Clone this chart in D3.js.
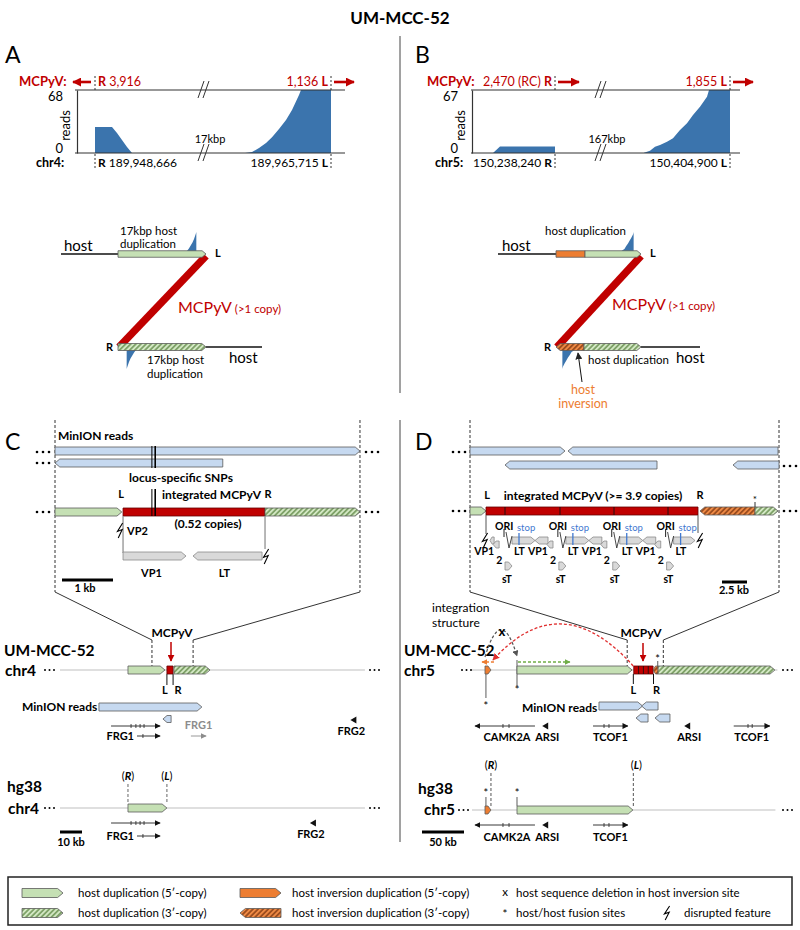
<!DOCTYPE html>
<html><head><meta charset="utf-8">
<script src="https://cdn.jsdelivr.net/npm/d3@7"></script>
<style>body{margin:0;background:#fff}svg{display:block}text{font-family:Lato,'Open Sans','DejaVu Sans',sans-serif;white-space:pre}</style>
</head><body><svg id="c" width="800" height="930"></svg>
<script>
// ================= DATA =================
const figTitle = "UM-MCC-52";
const panelLetters = ["A","B","C","D"];
// Panels A/B: read coverage across junctions [bp offset from junction, reads]
const covA_R = [[0,28],[340,28],[440,21.6],[540,14],[640,6.5],[740,0]];
const covA_L = [[-1720,0],[-1580,1],[-1440,5.4],[-1300,10.8],[-1180,17],[-1040,25.9],[-900,35.6],[-780,46.4],[-640,62.6],[-600,68],[0,68]];
const covB_R = [[-1240,0],[-1100,7],[0,7]];
const covB_L = [[-1720,0.3],[-1600,2.5],[-1500,6.7],[-1400,8.5],[-1260,12],[-1140,15.6],[-1000,24.5],[-860,31.6],[-740,40.4],[-600,49.3],[-460,59.9],[-420,67],[0,67]];
const readMaxA = 68, readMaxB = 67;
const virusPosA = ["3,916","1,136"], hostPosA = ["189,948,666","189,965,715"];
const virusPosB = ["2,470 (RC)","1,855"], hostPosB = ["150,238,240","150,404,900"];
const chrLabels = ["chr4:","chr5:"];
const gapLabels = ["17kbp","167kbp"];
// Panel C top (kb)
const cFrame = [0, 5.98];
const cReads = [{s:0,e:5.98,dir:"r",row:0},{s:0,e:3.29,dir:"l",row:1}];
const cSNPs = [1.90, 1.965];
const cBar = [{s:0,e:1.31,type:"dup5",dir:"r"},{s:1.334,e:4.118,type:"virus",dir:"n"},{s:4.118,e:5.98,type:"dup3",dir:"r"}];
const cJunction = {L:1.334, R:4.118};
const cGenes = [{name:"VP1",s:1.334,e:2.569,dir:"r"},{name:"LT",s:2.706,e:4.06,dir:"l"}];
// Panel C chr4 tracks (kb)
const c4Line = [0, 138.6];
const c4Zoom = [41.8, 60.5];
const c4Blocks = [{s:30.9,e:47.7,type:"dup5",dir:"r"},{s:48.6,e:51.4,type:"virus",dir:"n"},{s:51.8,e:68.2,type:"dup3",dir:"r"}];
const c4Reads = [{s:17.7,e:64.5,dir:"r",row:0},{s:46.8,e:50.5,dir:"l",row:1}];
const c4Genes = [{name:"FRG1",s:23.2,e:45.5,dir:"r",row:0,ticks:[32.3,34.5,36.4,38.2]},{name:"FRG1",s:35,e:45.5,dir:"r",row:1,ticks:[37.7]},{name:"FRG1",s:59.5,e:66.4,dir:"r",row:1,gray:true,ticks:[]},{name:"FRG2",s:132,e:134.8,dir:"l",row:0,marker:true,ticks:[]}];
const hg4Blocks = [{s:30.9,e:48.6,type:"dup5",dir:"r"}];
const hg4Genes = [{name:"FRG1",s:23.2,e:45.5,dir:"r",row:0,ticks:[32.3,34.5,36.4,38.2]},{name:"FRG1",s:35,e:45.5,dir:"r",row:1,ticks:[37.7]},{name:"FRG2",s:113.6,e:116.4,dir:"l",row:0,marker:true,ticks:[]}];
// Panel D top (kb)
const dFrame = [0, 30.9];
const dReads = [{s:0,e:9.5,dir:"r",row:0},{s:9.8,e:30.8,dir:"l",row:0},{s:3.5,e:18.7,dir:"l",row:1},{s:26.3,e:30.9,dir:"l",row:1}];
const dBar = [{s:0,e:1.6,type:"dup5",dir:"r"},{s:1.6,e:22.8,type:"virus",dir:"n"},{s:23.0,e:28.5,type:"inv3",dir:"l"},{s:28.5,e:30.8,type:"dup3",dir:"r"}];
const dJunction = {L:1.6, R:22.8};
const dCopyBounds = [3.5, 9.0, 14.4, 19.8];
const dFusion = [28.5];
const mcpyvGenomeKb = 5.387, dFirstOri = 2.5;
const dCopies = [-1,0,1,2,3];
const mcpyvGenes = [{name:"LT",s:1.7,e:4.0,dir:"r",row:0},{name:"VP1",s:4.0,e:5.3,dir:"l",row:0},{name:"VP2",s:5.2,e:5.8,dir:"l",row:1},{name:"sT",s:1.0,e:1.7,dir:"r",row:2}];
const mcpyvStop = 2.4;
// Panel D chr5 tracks (kb)
const c5Line = [-3.6, 360];
const c5Zoom = [180, 223];
const c5Blocks = [{s:11.9,e:19,type:"inv5",dir:"r"},{s:50,e:187,type:"dup5",dir:"r"},{s:189,e:212,type:"virus",dir:"n",copies:4},{s:212,e:218,type:"inv3",dir:"l"},{s:218,e:357,type:"dup3",dir:"r"}];
const c5Junction = {L:188.5, R:212.5};
const c5Fusions = [{pos:13,y0:674,y1:698,ty:710},{pos:50,y0:660,y1:686,ty:694},{pos:217.5,y0:661,y1:667,ty:663}];
const c5Reads = [{s:147.6,e:199.5,dir:"r",row:0},{s:198.3,e:217.9,dir:"l",row:0},{s:191.7,e:206,dir:"l",row:1},{s:214.3,e:232.1,dir:"l",row:1}];
const c5Genes = [{name:"CAMK2A",s:0,e:71.4,dir:"l",ticks:[33.3,40.5]},{name:"ARSI",s:80,e:87,dir:"l",marker:true,ticks:[]},{name:"TCOF1",s:140.5,e:182,dir:"r",ticks:[153.6,159.5]},{name:"ARSI",s:249,e:256,dir:"l",marker:true,ticks:[]},{name:"TCOF1",s:308,e:351,dir:"r",ticks:[325,330]}];
const hg5Blocks = [{s:11.9,e:19,type:"inv5",dir:"r"},{s:50,e:188,type:"dup5",dir:"r"}];
const hg5Fusions = [13, 50];
const hg5Marks = [{lab:"R",pos:19},{lab:"L",pos:188.5}];
const hg5Genes = c5Genes.slice(0,3);
const legendItems = [
  {type:"dup5",dir:"r",label:"host duplication (5′-copy)",col:0,row:0},
  {type:"dup3",dir:"r",label:"host duplication (3′-copy)",col:0,row:1},
  {type:"inv5",dir:"r",label:"host inversion duplication (5′-copy)",col:1,row:0},
  {type:"inv3",dir:"l",label:"host inversion duplication (3′-copy)",col:1,row:1},
  {sym:"x",label:"host sequence deletion in host inversion site",col:2,row:0},
  {sym:"*",label:"host/host fusion sites",col:2,row:1},
  {sym:"bolt",label:"disrupted feature",col:3,row:1}];

// ================= STYLE / HELPERS =================
const C = {green:"#c5e0b4", red:"#c00000", orange:"#ed7d31", blue:"#3b74ad", read:"#c6d9f0", gene:"#d9d9d9", edge:"#5a5a5a", chr:"#d4d4d4", stop:"#3f78d0"};
const bpPerPx = 20;
const svg = d3.select("#c");
const defs = svg.append("defs");
function hatch(id,bg,fg){const p=defs.append("pattern").attr("id",id).attr("patternUnits","userSpaceOnUse").attr("width",3.6).attr("height",3.6).attr("patternTransform","rotate(45)");
 p.append("rect").attr("width",3.6).attr("height",3.6).attr("fill",bg);
 p.append("line").attr("x1",0.9).attr("x2",0.9).attr("y1",0).attr("y2",3.6).attr("stroke",fg).attr("stroke-width",1.3);}
hatch("hG","#d3e8c4","#5e8745"); hatch("hO","#ef8a45","#7b3510");
function marker(id,color,size){defs.append("marker").attr("id",id).attr("viewBox","0 0 10 10").attr("refX",9).attr("refY",5)
 .attr("markerWidth",size).attr("markerHeight",size).attr("orient","auto").attr("markerUnits","userSpaceOnUse")
 .append("path").attr("d","M0,0 L10,5 L0,10 z").attr("fill",color);}
marker("mRed",C.red,9); marker("mRedS",C.red,7); marker("mBlk","#222",7); marker("mGene","#111",6); marker("mGeneG","#8c8c8c",6);
marker("mGreen","#70ad47",6); marker("mOrange",C.orange,6); marker("mGray","#555",6); marker("mRedA","#e03030",7);
const fillOf = t => ({dup5:C.green, dup3:"url(#hG)", virus:C.red, inv5:C.orange, inv3:"url(#hO)"})[t];
function abox(g,x0,x1,yc,h,dir,fill,stroke=C.edge,sw=0.8){
 const t=Math.min(h*0.6,Math.abs(x1-x0)/2),a=yc-h/2,b=yc+h/2; let p;
 if(dir==="r")p=[[x0,a],[x1-t,a],[x1,yc],[x1-t,b],[x0,b]];
 else if(dir==="l")p=[[x0,yc],[x0+t,a],[x1,a],[x1,b],[x0+t,b]];
 else if(dir==="b")p=[[x0,yc],[x0+t,a],[x1-t,a],[x1,yc],[x1-t,b],[x0+t,b]];
 else p=[[x0,a],[x1,a],[x1,b],[x0,b]];
 return g.append("polygon").attr("points",p.map(q=>q.join(",")).join(" ")).attr("fill",fill).attr("stroke",stroke).attr("stroke-width",sw);}
function txt(g,x,y,s,o={}){const t=g.append("text").attr("x",x).attr("y",y).text(s).attr("font-size",o.size||12)
 .attr("text-anchor",o.anchor||"start").attr("fill",o.fill||"#000");
 if(o.bold)t.attr("font-weight","bold"); if(o.style)t.attr("font-style",o.style); if(o.family)t.attr("font-family",o.family); return t;}
function mtext(g,x,y,parts,o={}){const t=g.append("text").attr("x",x).attr("y",y).attr("font-size",o.size||12).attr("text-anchor",o.anchor||"start").attr("fill",o.fill||"#000");
 parts.forEach(p=>{const s=t.append("tspan").text(p[0]); if(p[1])s.attr("font-weight","bold"); if(p[2])s.attr("font-style",p[2]);}); return t;}
function line(g,x1,y1,x2,y2,o={}){const l=g.append("line").attr("x1",x1).attr("y1",y1).attr("x2",x2).attr("y2",y2)
 .attr("stroke",o.c||"#000").attr("stroke-width",o.w||1); if(o.dash)l.attr("stroke-dasharray",o.dash); if(o.m)l.attr("marker-end",`url(#${o.m})`); return l;}
function bolt(g,x,y,h=14){g.append("path").attr("d",`M${x+2.6},${y} L${x-2.6},${y+h*0.56} L${x+2.2},${y+h*0.44} L${x-1.8},${y+h}`)
 .attr("fill","none").attr("stroke","#000").attr("stroke-width",1.1);}
function dots(g,x,y,r=1.3,gap=6){d3.range(3).forEach(i=>g.append("circle").attr("cx",x+i*gap).attr("cy",y).attr("r",r).attr("fill","#000"));}
function geneArrow(g,x0,x1,y,dir,ticks,gray){const col=gray?"#8c8c8c":"#222";
 line(g,dir==="r"?x0:x1,y,dir==="r"?x1:x0,y,{c:col,w:0.9,m:gray?"mGeneG":"mGene"});
 ticks.forEach(t=>line(g,t,y-2,t,y+2,{c:col,w:0.8}));}
function geneMarker(g,x,y,dir){const p=dir==="l"?`M${x},${y} L${x+6},${y-3.5} L${x+6},${y+3.5} z`:`M${x+6},${y} L${x},${y-3.5} L${x},${y+3.5} z`;
 g.append("path").attr("d",p).attr("fill","#111");}

// ================= TITLE / FRAME =================
txt(svg,400,24,figTitle,{size:17,bold:true,anchor:"middle"});
[[5,63],[415,63],[5,450],[415,450]].forEach((p,i)=>txt(svg,p[0],p[1],panelLetters[i],{size:23,family:"'Liberation Sans',Arial,sans-serif"}));
line(svg,400,36,400,393,{c:"#444",w:1}); line(svg,400,420,400,842,{c:"#444",w:1});

// ================= PANELS A / B: coverage =================
function coveragePanel(cfg){
 const g=svg.append("g"), L=cfg.lay;
 const sy=d3.scaleLinear().domain([0,cfg.max]).range([L.botY,L.topY]);
 const sR=d3.scaleLinear().domain([0,bpPerPx]).range([L.Rj,L.Rj+1]);
 const sL=d3.scaleLinear().domain([0,bpPerPx]).range([L.Lj,L.Lj+1]);
 const area=sx=>d3.area().x(d=>sx(d[0])).y0(L.botY).y1(d=>sy(Math.min(d[1],cfg.max)));
 g.append("path").datum(cfg.covR).attr("d",area(sR)).attr("fill",C.blue);
 g.append("path").datum(cfg.covL).attr("d",area(sL)).attr("fill",C.blue);
 line(g,L.x0,L.topY,L.x1,L.topY,{c:"#333",w:1.2}); line(g,L.x0,L.botY,L.x1,L.botY,{c:"#333",w:1.2});
 const ax=g.append("g").attr("transform",`translate(${L.axisX},0)`).call(d3.axisLeft(sy).tickValues([0,cfg.max]).tickSize(0).tickPadding(14));
 ax.select(".domain").attr("stroke","#333").attr("stroke-width",1.2);
 ax.selectAll("text").attr("font-size",13).attr("fill","#000").attr("font-family","Lato,sans-serif").attr("dy",d=>d===0?"-0.05em":"0.78em");
 txt(g,0,0,"reads",{size:13,anchor:"middle"}).attr("transform",`translate(${L.axisX-7},${(L.topY+L.botY)/2+4}) rotate(-90)`);
 // breaks
 [L.topY,L.botY].forEach(y=>{[0,5].forEach(dx=>line(g,L.brk-5+dx,y+8,L.brk+1+dx,y-9,{c:"#333",w:1}));});
 txt(g,L.brk+7,L.botY-10,cfg.gap,{size:11,anchor:"middle"});
 // junction dashes
 [L.Rj,L.Lj].forEach(x=>{line(g,x,L.topY-14,x,L.topY,{c:"#333",dash:"2,2"}); line(g,x,L.botY+1,x,L.botY+17,{c:"#333",dash:"2,2"});});
 const vy=L.topY-4, hy=L.botY+14;
 txt(g,L.mcX,vy,"MCPyV:",{size:13,bold:true,fill:C.red});
 txt(g,L.chrX,hy,cfg.chr,{size:12.5,bold:true});
 if(cfg.rFirst){
  mtext(g,L.Rj+3,vy,[["R",1],[" "+cfg.virus[0]]],{size:12.5,fill:C.red});
  line(g,L.Rj-4,L.topY-8,L.Rj-22,L.topY-8,{c:C.red,w:2.6,m:"mRed"});
  mtext(g,L.Rj+3,hy,[["R",1],[" "+cfg.host[0]]],{size:12});
 } else {
  mtext(g,L.Rj-3,vy,[[cfg.virus[0]+" "],["R",1]],{size:12.5,fill:C.red,anchor:"end"});
  line(g,L.Rj+3,L.topY-8,L.Rj+24,L.topY-8,{c:C.red,w:2.6,m:"mRed"});
  mtext(g,L.Rj-3,hy,[[cfg.host[0]+" "],["R",1]],{size:12,anchor:"end"});
 }
 mtext(g,L.Lj-3,vy,[[cfg.virus[1]+" "],["L",1]],{size:12.5,fill:C.red,anchor:"end"});
 line(g,L.Lj+3,L.topY-8,L.Lj+23,L.topY-8,{c:C.red,w:2.6,m:"mRed"});
 mtext(g,L.Lj-3,hy,[[cfg.host[1]+" "],["L",1]],{size:12,anchor:"end"});
}
coveragePanel({covR:covA_R,covL:covA_L,max:readMaxA,virus:virusPosA,host:hostPosA,chr:chrLabels[0],gap:gapLabels[0],rFirst:true,
 lay:{axisX:77,x0:75,x1:345,brk:203,Rj:95,Lj:331,topY:90,botY:153,mcX:19,chrX:36}});
coveragePanel({covR:covB_R,covL:covB_L,max:readMaxB,virus:virusPosB,host:hostPosB,chr:chrLabels[1],gap:gapLabels[1],rFirst:false,
 lay:{axisX:472,x0:471,x1:740,brk:600,Rj:555,Lj:730,topY:90,botY:153,mcX:427,chrX:435}});

// ================= PANELS A / B: integration diagrams =================
function junctionDiagram(cfg){
 const g=svg.append("g"), D=cfg.lay;
 const dom=d3.extent(cfg.cov,d=>d[0]);
 const sxT=d3.scaleLinear().domain(dom).range([D.barX1-24,D.barX1-2]);
 const syT=d3.scaleLinear().domain([0,cfg.max]).range([D.topY,D.topY-22]);
 const sxB=d3.scaleLinear().domain(dom).range([D.barX0+23,D.barX0+1]);
 const syB=d3.scaleLinear().domain([0,cfg.max]).range([D.botY,D.botY+22]);
 const prof=cfg.cov.slice(0,-1);
 g.append("path").datum(prof).attr("d",d3.area().x(d=>sxT(d[0])).y0(D.topY).y1(d=>syT(d[1]))).attr("fill",C.blue);
 g.append("path").datum(prof).attr("d",d3.area().x(d=>sxB(d[0])).y0(D.botY).y1(d=>syB(d[1]))).attr("fill",C.blue);
 line(g,D.hostX0,D.topY,D.barX0,D.topY,{c:"#111",w:1.6});
 line(g,D.barX1,D.botY,D.hostX1,D.botY,{c:"#111",w:1.6});
 line(g,D.barX1,D.topY+2,D.barX0+1,D.botY,{c:C.red,w:7.5});
 if(D.inv){abox(g,D.barX0,D.inv,D.topY,6.5,"n",C.orange); abox(g,D.inv,D.barX1,D.topY,6.5,"r",C.green);
  abox(g,D.barX0,D.inv-1,D.botY,7,"l","url(#hO)"); abox(g,D.inv-1,D.barX1,D.botY,7,"r","url(#hG)");}
 else {abox(g,D.barX0,D.barX1,D.topY,6.5,"r",C.green); abox(g,D.barX0,D.barX1,D.botY,7,"r","url(#hG)");}
 txt(g,D.barX1+9,D.topY+3,"L",{size:11,bold:true});
 txt(g,D.barX0-12,D.botY+4,"R",{size:11,bold:true});
 txt(g,D.hostTX,D.topY-3,"host",{size:15}); txt(g,D.hostBX,D.botY+16,"host",{size:15});
 cfg.topText.forEach((s,i)=>txt(g,D.tTX,D.tTY+i*13,s,{size:11.5}));
 cfg.botText.forEach((s,i)=>txt(g,D.bTX,D.botY+17+i*13.5,s,{size:11.5}));
 mtext(g,D.mcX,D.mcY,[["MCPyV"]],{size:16,fill:C.red}).append("tspan").text(" (>1 copy)").attr("font-size",11.5);
 if(cfg.invLabel){line(g,D.inv-3,D.botY+35,D.inv-7,D.botY+6,{c:"#111",w:1,m:"mBlk"});
  cfg.invLabel.forEach((s,i)=>txt(g,D.inv-2,D.botY+47+i*14,s,{size:12.5,fill:C.orange,anchor:"middle"}));}
}
junctionDiagram({cov:covA_L,max:readMaxA,topText:["17kbp host","duplication"],botText:["17kbp host","duplication"],
 lay:{topY:254,botY:347,hostX0:61,barX0:118,barX1:206,hostX1:262,inv:null,hostTX:64,hostBX:229,tTX:120,tTY:235,bTX:147,mcX:178,mcY:313}});
junctionDiagram({cov:covB_L,max:readMaxB,topText:["host duplication"],botText:["host duplication"],invLabel:["host","inversion"],
 lay:{topY:254,botY:347,hostX0:498,barX0:556,barX1:641,hostX1:700,inv:585,hostTX:502,hostBX:676,tTX:545,tTY:235,bTX:588,mcX:612,mcY:310}});

// ================= PANEL C =================
(function(){
 const g=svg.append("g");
 const s=d3.scaleLinear().domain([0,1]).range([55,106]);
 const rowY=[451,463], barY=512, geneY=556;
 cFrame.forEach(k=>line(g,s(k),420,s(k),592,{c:"#333",dash:"3,2"}));
 const s4=d3.scaleLinear().domain([0,1]).range([60,62.2]);
 line(g,s(cFrame[0]),592,s4(c4Zoom[0]),640,{c:"#333"}); line(g,s(cFrame[1]),592,s4(c4Zoom[1]),640,{c:"#333"});
 c4Zoom.forEach(k=>line(g,s4(k),640,s4(k),666,{c:"#333",dash:"3,2"}));
 txt(g,58,440,"MinION reads",{size:12,bold:true});
 cReads.forEach(r=>abox(g,s(r.s),s(r.e),rowY[r.row],8,r.dir,C.read));
 dots(g,37,452); dots(g,366,452); dots(g,37,463); dots(g,37,512); dots(g,366,512);
 cBar.forEach(b=>abox(g,s(b.s),s(b.e),barY,8,b.dir,fillOf(b.type),b.type==="virus"?"#600":C.edge));
 cSNPs.forEach((k,i)=>{line(g,s(k),446,s(k),468,{c:"#000",w:i?1.6:1}); line(g,s(k),489,s(k),516,{c:"#000",w:i?1.6:1});});
 txt(g,181,482,"locus-specific SNPs",{size:12,bold:true,anchor:"middle"});
 txt(g,s(cJunction.L)-2,498,"L",{size:11,bold:true,anchor:"middle"});
 txt(g,s(cJunction.R)+3,498,"R",{size:11,bold:true,anchor:"middle"});
 txt(g,162,499,"integrated MCPyV",{size:12,bold:true});
 txt(g,208,528,"(0.52 copies)",{size:12,bold:true,anchor:"middle"});
 line(g,s(cJunction.L),516,s(cJunction.L),553,{c:"#888",w:1.2});
 line(g,s(cJunction.R),516,s(cJunction.R),549,{c:"#888",w:1.2});
 bolt(g,s(cJunction.L)-3,523,15); bolt(g,s(cJunction.R)+1,549,15);
 txt(g,127,535,"VP2",{size:11,bold:true});
 cGenes.forEach(ge=>{abox(g,s(ge.s),s(ge.e),geneY,8,ge.dir,C.gene,"#8a8a8a");
  txt(g,(s(ge.s)+s(ge.e))/2-3,577,ge.name,{size:11,bold:true,anchor:"middle"});});
 line(g,62,580,62+s(1)-s(0),580,{w:3}); txt(g,85,592,"1 kb",{size:11,bold:true,anchor:"middle"});

 const t1=670;
 txt(g,4,656,"UM-MCC-52",{size:15.5,bold:true}); txt(g,5,676,"chr4",{size:15.5,bold:true});
 dots(g,45,t1,1,4.5); dots(g,370,t1,1,4.5);
 line(g,s4(c4Line[0]),t1,s4(c4Line[1]),t1,{c:C.chr,w:1.5});
 c4Blocks.forEach(b=>abox(g,s4(b.s),s4(b.e),t1,8,b.dir,fillOf(b.type),b.type==="virus"?"#600":C.edge));
 txt(g,172,637,"MCPyV",{size:12,bold:true,anchor:"middle"});
 line(g,171,642,171,661,{c:C.red,w:1.5,m:"mRedS"});
 [[s4(c4Blocks[1].s),"L",-2],[s4(c4Blocks[1].e),"R",5]].forEach(([x,l,dx])=>{line(g,x,674,x,685,{c:"#111"}); txt(g,x+dx,694,l,{size:11,bold:true,anchor:"middle"});});
 txt(g,22,711,"MinION reads",{size:12,bold:true});
 c4Reads.forEach(r=>abox(g,s4(r.s),s4(r.e),r.row?719:707,r.row?7:8,r.dir,C.read));
 const gy=[726,736];
 c4Genes.forEach(ge=>{ if(ge.marker){geneMarker(g,s4(ge.s),720,ge.dir); txt(g,s4(ge.s)+1,735,ge.name,{size:11,bold:true,anchor:"middle"}); return;}
  geneArrow(g,s4(ge.s),s4(ge.e),gy[ge.row],ge.dir,ge.ticks.map(s4),ge.gray);
  if(ge.gray) txt(g,(s4(ge.s)+s4(ge.e))/2,729,ge.name,{size:11,bold:true,fill:"#8c8c8c",anchor:"middle"});
  else if(ge.row===1) txt(g,s4(ge.s)-3,740,ge.name,{size:11,bold:true,anchor:"end"}); });

 const t2=808;
 txt(g,7,792,"hg38",{size:15.5,bold:true}); txt(g,8,814,"chr4",{size:15.5,bold:true});
 dots(g,45,t2,1,4.5); dots(g,370,t2,1,4.5);
 line(g,s4(c4Line[0]),t2,s4(c4Line[1]),t2,{c:C.chr,w:1.5});
 hg4Blocks.forEach(b=>abox(g,s4(b.s),s4(b.e),t2,8,b.dir,fillOf(b.type)));
 [[s4(hg4Blocks[0].s),"R"],[s4(hg4Blocks[0].e),"L"]].forEach(([x,l])=>{line(g,x,784,x,804,{c:"#666",dash:"3,2"});
  mtext(g,x,780,[["("],[l,1,"italic"],[")"]],{size:11,anchor:"middle"});});
 const gy2=[823,836];
 hg4Genes.forEach(ge=>{ if(ge.marker){geneMarker(g,s4(ge.s),gy2[ge.row],ge.dir); txt(g,s4(ge.s)+1,838,ge.name,{size:11,bold:true,anchor:"middle"}); return;}
  geneArrow(g,s4(ge.s),s4(ge.e),gy2[ge.row],ge.dir,ge.ticks.map(s4),false);
  if(ge.row===1) txt(g,s4(ge.s)-3,840,ge.name,{size:11,bold:true,anchor:"end"}); });
 line(g,60,832,60+s4(10)-s4(0),832,{w:3}); txt(g,71,846,"10 kb",{size:11,bold:true,anchor:"middle"});
})();

// ================= PANEL D =================
(function(){
 const g=svg.append("g");
 const s=d3.scaleLinear().domain([0,1]).range([470,480]);
 const s5=d3.scaleLinear().domain([0,1]).range([475,475.84]);
 const rowY=[451,465], barY=511;
 dFrame.forEach(k=>line(g,s(k),420,s(k),592,{c:"#333",dash:"3,2"}));
 line(g,s(dFrame[0]),592,s5(c5Zoom[0])+1,640,{c:"#333"}); line(g,s(dFrame[1]),592,s5(c5Zoom[1])+1,640,{c:"#333"});
 c5Zoom.forEach(k=>line(g,s5(k)+1,640,s5(k)+1,666,{c:"#333",dash:"3,2"}));
 dReads.forEach(r=>abox(g,s(r.s),s(r.e),rowY[r.row],8,r.dir,C.read));
 dots(g,453,452); dots(g,784,466); dots(g,453,511); dots(g,784,511);
 dBar.forEach(b=>abox(g,s(b.s),s(b.e),barY,8,b.dir,fillOf(b.type),b.type==="virus"?"#600":C.edge));
 dCopyBounds.forEach(k=>line(g,s(k),507,s(k),515,{c:"#111",w:0.9}));
 dFusion.forEach(k=>{line(g,s(k),502,s(k),507,{c:"#333"}); txt(g,s(k),503,"*",{size:10,anchor:"middle"});});
 txt(g,s(dJunction.L)+1,499,"L",{size:11,bold:true,anchor:"middle"});
 txt(g,s(dJunction.R)+2,499,"R",{size:11,bold:true,anchor:"middle"});
 txt(g,593,500,"integrated MCPyV (>= 3.9 copies)",{size:12,bold:true,anchor:"middle"});
 line(g,s(dJunction.L),515,s(dJunction.L),534,{c:"#555",w:1}); line(g,s(dJunction.R),515,s(dJunction.R),533,{c:"#555",w:1});
 bolt(g,s(dJunction.L)-1,533,15); bolt(g,s(dJunction.R)+2,533,15);
 const lo=s(dJunction.L), hi=s(dJunction.R), gY=[540.5,544.5,566], gH=[7,7,8];
 dCopies.forEach(c=>{
  const o=dFirstOri+c*mcpyvGenomeKb;
  mcpyvGenes.forEach(ge=>{let x0=s(o+ge.s),x1=s(o+ge.e); if(x1<=lo||x0>=hi)return; x0=Math.max(x0,lo+4); x1=Math.min(x1,hi-3); if(x1-x0<2)return;
   abox(g,x0,x1,gY[ge.row],gH[ge.row],ge.dir,C.gene,"#8a8a8a");});
  if(c>=0){
   txt(g,s(o),530,"ORI",{size:10.5,bold:true});
   line(g,s(o+0.9),529,s(o+0.9),537,{c:"#222"});
   g.append("path").attr("d",`M${s(o+1.1)},532 L${s(o+1.4)},548 L${s(o+1.7)},536`).attr("fill","none").attr("stroke","#333").attr("stroke-width",0.9);
   line(g,s(o+mcpyvStop),533,s(o+mcpyvStop),545,{c:C.stop,w:1.3});
   txt(g,s(o+2.2),531,"stop",{size:9.5,fill:C.stop});
   txt(g,s(o+1.9),555,"LT",{size:10.5,bold:true});
   txt(g,s(o+0.7),583,"sT",{size:10.5,bold:true});
  }
  if(c<3){ txt(g,s(o+3.3),555,"VP1",{size:10.5,bold:true}); txt(g,s(o+5.5),564,"2",{size:10.5,bold:true}); }
 });
 line(g,722,582,722+s(2.5)-s(0),582,{w:3}); txt(g,734,594,"2.5 kb",{size:11,bold:true,anchor:"middle"});

 const t1=670;
 txt(g,404,656,"UM-MCC-52",{size:15.5,bold:true}); txt(g,404,676,"chr5",{size:15.5,bold:true});
 txt(g,432,612,"integration",{size:12}); txt(g,432,627,"structure",{size:12});
 dots(g,462,t1,1,4.5); dots(g,783,t1,1,4.5);
 line(g,s5(c5Line[0]),t1,s5(c5Line[1]),t1,{c:C.chr,w:1.5});
 c5Fusions.forEach(f=>{line(g,s5(f.pos),f.y0,s5(f.pos),f.y1,{c:"#777",w:1.2}); txt(g,s5(f.pos),f.ty,"*",{size:11,anchor:"middle"});});
 c5Blocks.forEach(b=>{abox(g,s5(b.s),s5(b.e),t1,8,b.dir,fillOf(b.type),b.type==="virus"?"#600":C.edge);
  if(b.copies) d3.range(1,b.copies).forEach(i=>{const x=s5(b.s+(b.e-b.s)*i/b.copies); line(g,x,666,x,674,{c:"#111",w:0.8});});});
 txt(g,641,637,"MCPyV",{size:12,bold:true,anchor:"middle"});
 line(g,643,643,643,661,{c:C.red,w:1.5,m:"mRedS"});
 [[s5(c5Junction.L),"L",0],[s5(c5Junction.R),"R",3]].forEach(([x,l,dx])=>{line(g,x,674,x,684,{c:"#111"}); txt(g,x+dx,694,l,{size:11,bold:true,anchor:"middle"});});
 const xi=s5(c5Blocks[0].s), xie=s5(c5Blocks[0].e), xd=s5(c5Blocks[1].s), xL=s5(c5Junction.L);
 g.append("path").attr("d",`M${xi},657 Q${(xi+xd)/2},603 ${xd},656`).attr("fill","none").attr("stroke","#555").attr("stroke-width",1.2).attr("stroke-dasharray","3,2").attr("marker-end","url(#mGray)");
 txt(g,(xi+xd)/2+1,636,"x",{size:13,bold:true,anchor:"middle"});
 g.append("path").attr("d",`M${xL},666 Q${xL-73},585 ${xie+2},660`).attr("fill","none").attr("stroke","#e03030").attr("stroke-width",1.3).attr("stroke-dasharray","3,2").attr("marker-end","url(#mRedA)");
 line(g,xd+1,662,s5(113),662,{c:"#70ad47",w:1.3,dash:"3,2",m:"mGreen"});
 line(g,xie+3,662,xi-3,662,{c:C.orange,w:1.3,dash:"3,2",m:"mOrange"});
 txt(g,522,712,"MinION reads",{size:12,bold:true});
 c5Reads.forEach(r=>abox(g,s5(r.s),s5(r.e),r.row?718:706,8,r.dir,C.read));
 c5Genes.forEach(ge=>{ if(ge.marker){geneMarker(g,s5(ge.s),726,ge.dir); txt(g,s5(ge.s)+5,741,ge.name,{size:11,bold:true,anchor:"middle"}); return;}
  geneArrow(g,s5(ge.s),s5(ge.e),726,ge.dir,ge.ticks.map(s5),false);
  txt(g,(s5(ge.s)+s5(ge.e))/2+(ge.dir==="l"?2:0),741,ge.name,{size:11,bold:true,anchor:"middle"}); });

 const t2=810;
 txt(g,418,794,"hg38",{size:15.5,bold:true}); txt(g,424,815,"chr5",{size:15.5,bold:true});
 dots(g,459,t2,1,4.5); dots(g,783,t2,1,4.5);
 line(g,s5(c5Line[0]),t2,s5(c5Line[1])-2,t2,{c:C.chr,w:1.5});
 hg5Fusions.forEach(k=>{line(g,s5(k),797,s5(k),806,{c:"#777",w:1.2}); txt(g,s5(k),797,"*",{size:11,anchor:"middle"});});
 hg5Blocks.forEach(b=>abox(g,s5(b.s),s5(b.e),t2,8,b.dir,fillOf(b.type)));
 hg5Marks.forEach(m=>{const x=s5(m.pos); line(g,x,773,x,806,{c:"#555",dash:"3,2"}); mtext(g,x+(m.lab==="L"?3:0),769,[["("],[m.lab,1,"italic"],[")"]],{size:11,anchor:"middle"});});
 hg5Genes.forEach(ge=>{ if(ge.marker){geneMarker(g,s5(ge.s),825,ge.dir); txt(g,s5(ge.s)+5,841,ge.name,{size:11,bold:true,anchor:"middle"}); return;}
  geneArrow(g,s5(ge.s),s5(ge.e),825,ge.dir,ge.ticks.map(s5),false);
  txt(g,(s5(ge.s)+s5(ge.e))/2+(ge.dir==="l"?2:0),841,ge.name,{size:11,bold:true,anchor:"middle"}); });
 line(g,422,832,422+s5(50)-s5(0),832,{w:3}); txt(g,443,846,"50 kb",{size:11,bold:true,anchor:"middle"});
})();

// ================= LEGEND =================
(function(){
 const g=svg.append("g");
 g.append("rect").attr("x",8).attr("y",877).attr("width",784).attr("height",48).attr("fill","none").attr("stroke","#222").attr("stroke-width",1.5);
 const rowY=[893,913], iconX=[22,240], textX=[78,292];
 legendItems.forEach(it=>{const y=rowY[it.row];
  if(it.type){abox(g,iconX[it.col],iconX[it.col]+41,y,9,it.dir,fillOf(it.type)); txt(g,textX[it.col],y+4,it.label,{size:11.5});}
  else if(it.sym==="bolt"){bolt(g,667,y-7,14); txt(g,684,y+4,it.label,{size:11.5});}
  else {txt(g,505,y+(it.sym==="*"?5:3),it.sym,{size:11.5,anchor:"middle"}); txt(g,516,y+4,it.label,{size:11.5});}
 });
})();
</script></body></html>
